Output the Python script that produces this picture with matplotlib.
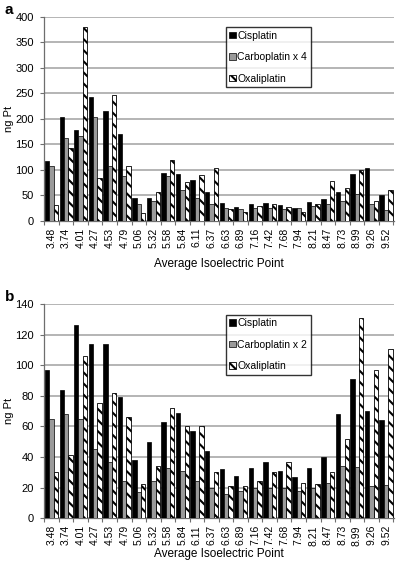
import numpy as np
import matplotlib
matplotlib.use("Agg")
import matplotlib.pyplot as plt

plt.rcParams['font.family'] = ['Liberation Sans', 'DejaVu Sans']
plt.rcParams['hatch.color'] = '#333333'
plt.rcParams['hatch.linewidth'] = 1.5

# ---------------------------------------------------------------------------
# Data
# ---------------------------------------------------------------------------
pi_labels = ["3.48", "3.74", "4.01", "4.27", "4.53", "4.79", "5.06", "5.32",
             "5.58", "5.84", "6.11", "6.37", "6.63", "6.89", "7.16", "7.42",
             "7.68", "7.94", "8.21", "8.47", "8.73", "8.99", "9.26", "9.52"]

# panel a
cis_a   = [117, 203, 178, 243, 215, 171, 44, 44, 93, 92, 80, 57,
           35, 28, 34, 36, 32, 26, 37, 42, 56, 92, 103, 50]
carbo_a = [108, 163, 167, 204, 107, 87, 33, 39, 87, 61, 44, 34,
           25, 24, 26, 26, 24, 26, 29, 34, 39, 52, 33, 22]
oxa_a   = [32, 142, 381, 84, 246, 107, 16, 56, 119, 77, 89, 103,
           24, 18, 29, 33, 28, 18, 33, 79, 64, 99, 39, 60]

# panel b
cis_b   = [97, 84, 126, 114, 114, 79, 38, 49.5, 63, 69, 57, 44,
           32, 27.5, 32.5, 37, 31, 27, 33, 40, 68, 91, 70, 64]
carbo_b = [65, 68, 65, 45, 36.5, 24, 17, 24, 33, 31, 24, 20,
           16, 18, 20, 19.5, 19.5, 17.5, 20, 23, 34, 33.5, 21, 21.5]
oxa_b   = [30, 41, 106, 75, 82, 66, 22.5, 34, 72, 60.5, 60, 30,
           21, 21, 24, 30, 37, 23, 22.5, 30, 52, 131, 97, 110.5]

# ---------------------------------------------------------------------------
# Figure
# ---------------------------------------------------------------------------
fig = plt.figure(figsize=(3.96, 5.62), dpi=100, facecolor="white")

GRID = "#a0a0a0"
AX   = "#6e6e6e"
W    = 0.3


def draw_panel(rect, cis, carbo, oxa, ymax, ystep, carbo_name, letter, xpad):
    ax = fig.add_axes(rect)
    x = np.arange(len(pi_labels))
    ax.bar(x - W, cis, W, color="black", edgecolor="black", lw=0.5,
           label="Cisplatin", zorder=3)
    ax.bar(x, carbo, W, color="#9a9a9a", edgecolor="black", lw=0.5,
           label=carbo_name, zorder=3)
    ax.bar(x + W, oxa, W, color="white", edgecolor="black", lw=0.6,
           hatch="\\\\\\", label="Oxaliplatin", zorder=3)

    ax.set_xlim(-0.55, len(pi_labels) - 0.45)
    ax.set_ylim(0, ymax)
    ax.set_yticks(np.arange(0, ymax + 1, ystep))
    ax.yaxis.grid(True, color=GRID, lw=1.1, zorder=0)
    ax.set_axisbelow(True)

    ax.set_xticks(x)
    ax.set_xticklabels(pi_labels, rotation=90, fontsize=7.5)
    ax.set_xticks(np.arange(-0.5, len(pi_labels)), minor=True)
    ax.tick_params(axis="x", which="major", length=0, pad=5)
    ax.tick_params(axis="x", which="minor", length=3, color=AX, width=0.8)
    ax.tick_params(axis="y", length=3, color=AX, width=0.8, labelsize=8, pad=4)

    for s in ("top", "right"):
        ax.spines[s].set_visible(False)
    for s in ("left", "bottom"):
        ax.spines[s].set_color(AX)
        ax.spines[s].set_linewidth(0.9)

    ax.set_ylabel("ng Pt", fontsize=8)
    ax.yaxis.set_label_coords(-0.085, 0.5)
    ax.set_xlabel("Average Isoelectric Point", fontsize=8.5, labelpad=xpad)

    leg = ax.legend(loc="upper left", bbox_to_anchor=(0.52, 0.95), fontsize=7.5,
                    frameon=True, fancybox=False, edgecolor="black",
                    handlelength=0.6, handleheight=0.6, handletextpad=0.15,
                    labelspacing=1.1, borderpad=0.35, borderaxespad=0)
    leg.get_frame().set_linewidth(1.0)

    fig.text(0.012, rect[1] + rect[3] + 0.012, letter, fontsize=11,
             fontweight="bold", va="center", ha="left")
    return ax


draw_panel([0.110, 0.607, 0.885, 0.363], cis_a, carbo_a, oxa_a,
           400, 50, "Carboplatin x 4", "a", 7)
draw_panel([0.110, 0.078, 0.885, 0.381], cis_b, carbo_b, oxa_b,
           140, 20, "Carboplatin x 2", "b", 2)

fig.savefig("out.png", dpi=100, facecolor="white")
